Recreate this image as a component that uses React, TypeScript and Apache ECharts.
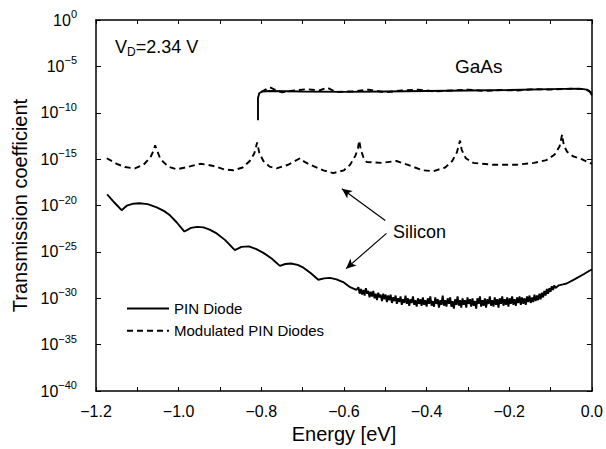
import React, { useEffect, useRef } from "react";
import * as echarts from "echarts";

// Energy in eV, transmission values as log10 exponents (10^exp)
const siliconPin: [number, number][] = [
  [-1.173, -18.8], [-1.155, -19.7], [-1.138, -20.5], [-1.125, -20.0], [-1.11, -19.8],
  [-1.095, -19.75], [-1.075, -19.85], [-1.053, -20.2], [-1.035, -20.6], [-1.021, -21.05],
  [-1.005, -21.8], [-0.986, -22.8], [-0.97, -22.4], [-0.955, -22.3], [-0.94, -22.35],
  [-0.925, -22.6], [-0.908, -23.0], [-0.888, -23.7], [-0.864, -24.8], [-0.848, -24.45],
  [-0.83, -24.4], [-0.812, -24.7], [-0.795, -25.1], [-0.775, -25.7], [-0.755, -26.5],
  [-0.742, -26.3], [-0.728, -26.25], [-0.712, -26.4], [-0.698, -26.7], [-0.68, -27.3],
  [-0.662, -28.0], [-0.648, -27.85], [-0.634, -27.8], [-0.618, -27.95], [-0.602, -28.25],
  [-0.585, -28.8], [-0.57, -29.1],
  [-0.565, -28.8], [-0.562, -29.5], [-0.559, -29.0], [-0.556, -29.6], [-0.553, -29.1],
  [-0.55, -29.7], [-0.547, -28.9], [-0.544, -29.5], [-0.541, -29.2], [-0.538, -29.9],
  [-0.535, -29.3], [-0.532, -29.8], [-0.529, -29.2], [-0.526, -30.0], [-0.523, -29.5],
  [-0.52, -30.2], [-0.517, -29.4], [-0.514, -29.9], [-0.511, -29.6], [-0.508, -30.3],
  [-0.505, -29.5], [-0.502, -30.1], [-0.499, -29.6], [-0.496, -30.4], [-0.493, -29.7],
  [-0.49, -30.2], [-0.487, -29.6], [-0.484, -30.5], [-0.481, -29.9], [-0.478, -30.3],
  [-0.475, -29.7], [-0.472, -30.6], [-0.469, -30.0], [-0.466, -30.4], [-0.463, -29.8],
  [-0.46, -30.7], [-0.457, -30.1], [-0.454, -30.5], [-0.451, -29.7], [-0.448, -30.6],
  [-0.445, -30.0], [-0.442, -30.8], [-0.439, -30.1], [-0.436, -30.5], [-0.433, -29.8],
  [-0.43, -30.7], [-0.427, -30.2], [-0.424, -30.9], [-0.421, -30.0], [-0.418, -30.6],
  [-0.415, -30.1], [-0.412, -30.8], [-0.409, -29.9], [-0.406, -30.7], [-0.403, -30.2],
  [-0.4, -30.9], [-0.397, -30.0], [-0.394, -30.6], [-0.391, -29.8], [-0.388, -30.8],
  [-0.385, -30.3], [-0.382, -30.9], [-0.379, -29.9], [-0.376, -30.6], [-0.373, -30.1],
  [-0.37, -31.0], [-0.367, -30.2], [-0.364, -30.7], [-0.361, -29.7], [-0.358, -30.8],
  [-0.355, -30.2], [-0.352, -30.9], [-0.349, -30.0], [-0.346, -30.6], [-0.343, -29.9],
  [-0.34, -30.9], [-0.337, -30.3], [-0.334, -31.1], [-0.331, -30.1], [-0.328, -30.7],
  [-0.325, -29.8], [-0.322, -30.8], [-0.319, -30.2], [-0.316, -31.0], [-0.313, -30.0],
  [-0.31, -30.7], [-0.307, -30.2], [-0.304, -31.0], [-0.301, -29.9], [-0.298, -30.6],
  [-0.295, -30.1], [-0.292, -30.9], [-0.289, -30.0], [-0.286, -30.8], [-0.283, -30.3],
  [-0.28, -31.1], [-0.277, -30.0], [-0.274, -30.6], [-0.271, -29.8], [-0.268, -30.9],
  [-0.265, -30.2], [-0.262, -30.8], [-0.259, -30.0], [-0.256, -31.0], [-0.253, -30.1],
  [-0.25, -30.6], [-0.247, -29.8], [-0.244, -30.8], [-0.241, -30.2], [-0.238, -30.9],
  [-0.235, -29.9], [-0.232, -30.7], [-0.229, -30.1], [-0.226, -31.0], [-0.223, -30.0],
  [-0.22, -30.6], [-0.217, -29.8], [-0.214, -30.8], [-0.211, -30.1], [-0.208, -30.7],
  [-0.205, -29.9], [-0.202, -30.9], [-0.199, -30.0], [-0.196, -30.6], [-0.193, -29.8],
  [-0.19, -30.7], [-0.187, -30.1], [-0.184, -30.8], [-0.181, -29.9], [-0.178, -30.5],
  [-0.175, -29.8], [-0.172, -30.7], [-0.169, -29.9], [-0.166, -30.6], [-0.163, -30.0],
  [-0.16, -30.7], [-0.157, -29.8], [-0.154, -30.4], [-0.151, -29.7], [-0.148, -30.5],
  [-0.145, -29.9], [-0.142, -30.4], [-0.139, -29.6], [-0.136, -30.3], [-0.133, -29.7],
  [-0.13, -30.2], [-0.127, -29.5], [-0.124, -30.1], [-0.121, -29.4], [-0.118, -29.9],
  [-0.115, -29.2], [-0.112, -29.7], [-0.109, -29.0], [-0.106, -29.5], [-0.103, -28.9],
  [-0.1, -29.3], [-0.097, -28.7], [-0.094, -29.1], [-0.091, -28.6], [-0.088, -28.9],
  [-0.08, -28.6], [-0.07, -28.5], [-0.061, -28.4], [-0.04, -27.9], [-0.02, -27.4],
  [-0.005, -27.0], [0, -26.9],
];

const siliconModulated: [number, number][] = [
  [-1.174, -14.9], [-1.15, -15.5], [-1.13, -15.85], [-1.106, -16.0], [-1.085, -15.6],
  [-1.068, -14.8], [-1.06, -14.0], [-1.057, -13.5], [-1.052, -14.1], [-1.044, -15.0],
  [-1.025, -15.8], [-1.005, -16.1], [-0.975, -15.8], [-0.948, -15.5], [-0.93, -15.6],
  [-0.91, -15.8], [-0.89, -16.1], [-0.868, -16.2], [-0.845, -15.9], [-0.828, -15.2],
  [-0.817, -14.4], [-0.81, -13.2], [-0.805, -14.3], [-0.795, -15.2], [-0.78, -15.8],
  [-0.763, -16.0], [-0.735, -15.6], [-0.706, -14.9], [-0.695, -15.3], [-0.682, -15.6],
  [-0.65, -16.2], [-0.626, -16.5], [-0.6, -16.2], [-0.585, -15.6], [-0.572, -14.6],
  [-0.566, -13.8], [-0.563, -13.0], [-0.559, -14.0], [-0.553, -14.8], [-0.545, -15.3],
  [-0.51, -15.4], [-0.473, -15.2], [-0.44, -15.7], [-0.41, -16.2], [-0.384, -16.3],
  [-0.355, -15.9], [-0.338, -15.2], [-0.327, -14.3], [-0.319, -13.0], [-0.315, -14.0],
  [-0.305, -14.9], [-0.287, -15.4], [-0.24, -15.6], [-0.182, -15.6], [-0.14, -15.4],
  [-0.11, -15.1], [-0.09, -14.5], [-0.078, -13.6], [-0.072, -12.35], [-0.068, -13.5],
  [-0.06, -14.2], [-0.045, -14.7], [-0.025, -15.0], [-0.005, -15.4], [0, -15.5],
];

const gaasPin: [number, number][] = [
  [-0.808, -10.8], [-0.808, -8.4], [-0.805, -7.9], [-0.798, -7.7], [-0.78, -7.65],
  [-0.7, -7.7], [-0.6, -7.75], [-0.5, -7.7], [-0.4, -7.65], [-0.3, -7.6],
  [-0.2, -7.55], [-0.1, -7.45], [-0.03, -7.4], [-0.012, -7.5], [-0.004, -7.8], [0, -8.1],
];

const gaasModulated: [number, number][] = [
  [-0.8, -7.75], [-0.79, -7.5], [-0.78, -7.25], [-0.77, -7.45], [-0.75, -7.8],
  [-0.72, -7.6], [-0.69, -7.45], [-0.66, -7.6], [-0.64, -7.3], [-0.62, -7.75],
  [-0.58, -7.7], [-0.54, -7.5], [-0.5, -7.8], [-0.46, -7.6], [-0.42, -7.5],
  [-0.38, -7.7], [-0.34, -7.6], [-0.3, -7.5], [-0.26, -7.65], [-0.22, -7.55],
  [-0.18, -7.6], [-0.14, -7.45], [-0.1, -7.5], [-0.05, -7.4], [-0.02, -7.45],
  [-0.008, -7.6], [0, -7.9],
];

// Arrows for the "Silicon" annotation: [tail, head] in [eV, exponent]
const arrowUpper: [number, number][] = [[-0.5, -21.6], [-0.605, -18.2]];
const arrowLower: [number, number][] = [[-0.497, -23.0], [-0.595, -26.8]];

const seriesNames = ["PIN Diode", "Modulated PIN Diodes"];
const xTitle = "Energy [eV]";
const yTitle = "Transmission coefficient";

const FONT = '"Liberation Sans", Arial, Helvetica, sans-serif';

export default function App() {
  const ref = useRef<HTMLDivElement>(null);
  useEffect(() => {
    const chart = echarts.init(ref.current!, null, { renderer: "svg" });
    const minus = (s: string) => s.replace("-", "\u2212");
    const solid = { color: "#000", width: 1.9, type: "solid" as const };
    const dashed = { color: "#000", width: 1.9, type: [6, 4] as any };
    const baseSeries = {
      type: "line" as const,
      showSymbol: false,
      symbol: "none",
      smooth: false,
      silent: true,
    };
    const option: any = {
      animation: false,
      backgroundColor: "#fff",
      textStyle: { fontFamily: FONT, color: "#000" },
      grid: { left: 96, right: 14, top: 20, bottom: 49, containLabel: false },
      legend: {
        data: seriesNames,
        orient: "vertical",
        left: 121,
        top: 296,
        itemWidth: 42,
        itemHeight: 14,
        itemGap: 7.2,
        itemStyle: { opacity: 0, color: "rgba(0,0,0,0)", borderWidth: 0 },
        textStyle: { fontFamily: FONT, fontSize: 15, color: "#000" },
      },
      xAxis: [
        {
          type: "value",
          position: "bottom",
          min: -1.2,
          max: 0,
          interval: 0.1,
          splitLine: { show: false },
          axisLine: { onZero: false, lineStyle: { color: "#000", width: 1.5 } },
          axisTick: { inside: true, length: 4, lineStyle: { color: "#000" } },
          axisLabel: {
            interval: 0,
            margin: 12,
            fontSize: 16,
            fontFamily: FONT,
            color: "#000",
            showMaxLabel: true,
            showMinLabel: true,
            formatter: (v: number) =>
              Math.round(v * 10) % 2 === 0 ? minus(v.toFixed(1)) : "",
          },
          name: xTitle,
          nameLocation: "middle",
          nameGap: 29,
          nameTextStyle: { fontSize: 20, fontFamily: FONT, color: "#000" },
        },
        {
          type: "value",
          position: "top",
          min: -1.2,
          max: 0,
          interval: 0.1,
          splitLine: { show: false },
          axisLine: { onZero: false, lineStyle: { color: "#000", width: 1.5 } },
          axisTick: { inside: true, length: 4, lineStyle: { color: "#000" } },
          axisLabel: { show: false },
        },
      ],
      yAxis: [
        {
          type: "value",
          position: "left",
          min: -40,
          max: 0,
          interval: 5,
          splitLine: { show: false },
          axisLine: { onZero: false, lineStyle: { color: "#000", width: 1.5 } },
          axisTick: { inside: true, length: 5, lineStyle: { color: "#000" } },
          axisLabel: {
            margin: 19,
            color: "#000",
            formatter: (v: number) =>
              v === 0 ? "{b|10}{s|0}" : `{b|10}{s|\u2212${Math.abs(v)}}`,
            rich: {
              b: { fontSize: 16, fontFamily: FONT, color: "#000" },
              s: { fontSize: 11, fontFamily: FONT, color: "#000", padding: [0, 0, 12, 0] },
            },
          },
          name: yTitle,
          nameLocation: "middle",
          nameGap: 60,
          nameRotate: 90,
          nameTextStyle: { fontSize: 20, fontFamily: FONT, color: "#000" },
        },
        {
          type: "value",
          position: "right",
          min: -40,
          max: 0,
          interval: 5,
          splitLine: { show: false },
          axisLine: { onZero: false, lineStyle: { color: "#000", width: 1.5 } },
          axisTick: { inside: true, length: 5, lineStyle: { color: "#000" } },
          axisLabel: { show: false },
        },
      ],
      series: [
        {
          ...baseSeries,
          name: seriesNames[0],
          data: siliconPin,
          lineStyle: solid,
          itemStyle: { color: "#000" },
          markLine: {
            silent: true,
            symbol: ["none", "arrow"],
            symbolSize: [7, 10],
            label: { show: false },
            lineStyle: { color: "#000", width: 1.2, type: "solid" },
            data: [
              [{ coord: arrowUpper[0] }, { coord: arrowUpper[1] }],
              [{ coord: arrowLower[0] }, { coord: arrowLower[1] }],
            ],
          },
        },
        {
          ...baseSeries,
          name: seriesNames[0],
          data: gaasPin,
          lineStyle: solid,
          itemStyle: { color: "#000" },
        },
        {
          ...baseSeries,
          name: seriesNames[1],
          data: siliconModulated,
          lineStyle: dashed,
          itemStyle: { color: "#000" },
        },
        {
          ...baseSeries,
          name: seriesNames[1],
          data: gaasModulated,
          lineStyle: dashed,
          itemStyle: { color: "#000" },
        },
      ],
      graphic: [
        {
          type: "text",
          x: 115,
          y: 47,
          style: {
            text: "{v|V}{d|D}{v|=2.34 V}",
            rich: {
              v: { fontSize: 18, fontFamily: FONT, fill: "#000" },
              d: { fontSize: 12, fontFamily: FONT, fill: "#000", padding: [10, 0, 0, 0] },
            },
            fill: "#000",
            verticalAlign: "middle",
            align: "left",
          },
        },
        {
          type: "text",
          x: 455,
          y: 66,
          style: {
            text: "GaAs",
            fontSize: 19,
            fontFamily: FONT,
            fill: "#000",
            verticalAlign: "middle",
            align: "left",
          },
        },
        {
          type: "text",
          x: 393,
          y: 232,
          style: {
            text: "Silicon",
            fontSize: 18,
            fontFamily: FONT,
            fill: "#000",
            verticalAlign: "middle",
            align: "left",
          },
        },
      ],
    };
    chart.setOption(option);
    return () => chart.dispose();
  }, []);
  return (
    <div
      ref={ref}
      style={{ position: "fixed", left: 0, top: 0, width: 606, height: 449 }}
    />
  );
}
